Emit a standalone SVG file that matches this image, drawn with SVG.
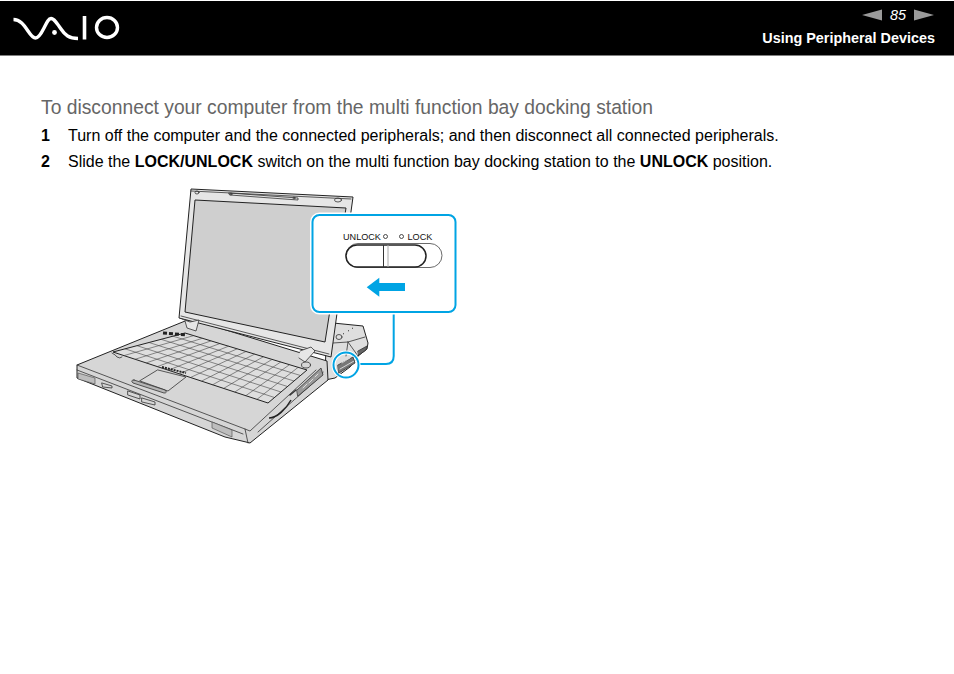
<svg xmlns="http://www.w3.org/2000/svg" width="954" height="674" viewBox="0 0 954 674">
<style>
text{font-family:"Liberation Sans",Arial,sans-serif}
.b{font-size:16px;fill:#000}
.bd{font-weight:bold}
.l{fill:none;stroke:#333;stroke-width:.8;stroke-linejoin:round;stroke-linecap:round}
.t{fill:none;stroke:#444;stroke-width:.6}
.g{fill:#d6d6d6;stroke:#222;stroke-width:1;stroke-linejoin:round}
.c{fill:none;stroke:#00a4e4;stroke-width:2}
.h{fill:#bdbdbd;stroke:#444;stroke-width:.6}
.s{font-size:9.100px;fill:#111}
</style>
<rect width="954" height="674" fill="#fff"/>
<g id="header">
<rect x="0" y="1" width="954" height="54.500" fill="#000"/>
<g id="logo" fill="none" stroke="#fff" stroke-width="3.400">
<path d="M13.500 19.500C20 19.500 24 25 28 31C31 35.500 33 38 35.500 38C38.500 38 41 34 44 28C46.500 23 48.500 18.500 51 18.500C54 18.500 57 23 61 29C65 35 69 38.500 78 38.500"/>
<path d="M84.500 16V39.500" stroke-width="3.600"/>
<ellipse cx="107" cy="27.500" rx="10.500" ry="10" stroke-width="3.400"/>
<circle cx="54.500" cy="32.500" r="2.400" fill="#fff" stroke="none"/>
</g>
<polygon points="862,15 882,9.500 882,20.500" fill="#9a9a9a"/>
<text x="890" y="20" fill="#fff" font-size="14.400" font-style="italic">85</text>
<polygon points="914,9.500 934,15 914,20.500" fill="#9a9a9a"/>
<text x="935" y="43" fill="#fff" font-size="14.400" font-weight="bold" text-anchor="end">Using Peripheral Devices</text>
</g>
<text x="41" y="114" font-size="19.300" fill="#666">To disconnect your computer from the multi function bay docking station</text>
<text x="41" y="141" class="b bd">1</text>
<text x="68" y="141" class="b">Turn off the computer and the connected peripherals; and then disconnect all connected peripherals.</text>
<text x="41" y="167" class="b bd">2</text>
<text x="68" y="167" class="b">Slide the <tspan class="bd">LOCK/UNLOCK</tspan> switch on the multi function bay docking station to the <tspan class="bd">UNLOCK</tspan> position.</text>

<g id="laptop">
<g id="dock">
<path class="g" d="M333 323L363 326L368 343L367 349L358 356L350 367L335 378L325 380L326 345Z" style="fill:#dedede"/>
<path class="l" d="M333 343L348 342L365 337M348 342L346 356M348 342L358 356"/>
<ellipse class="l" cx="339" cy="337" rx="3" ry="2.500"/>
<path class="l" d="M358 351L367 346L366 350L359 355Z" style="fill:#666"/>
<path d="M343 334L344 333.500M348 331L349 330.500M352 328.500L353 328" stroke="#333" fill="none"/>
</g>
<g id="base">
<path class="g" d="M190 319L327 361L328 380L250 443L246 442L225 437L77 378L77 365Z"/>
<path class="l" d="M77 365L245 429L250 431L316 370"/>
<path class="l" d="M77 370L243 434M245 429L248 443"/>
<path class="h" d="M78 373L95 378V384L78 379ZM212 422L232 430V437L212 428Z"/>
<path class="l" d="M102 383L112 386V388L103 387ZM128 391L140 395V399L128 395ZM142 398L155 402V405L142 402Z"/>
<path class="l" d="M258 432L321 376L323 372"/>
<path class="l" d="M297 390L321 368L323 375L298 396Z" style="fill:#999"/>
<path class="l" d="M303 388L307 384M309 383L313 379M315 377L318 374" style="stroke:#eee"/>
<path d="M269 418C277 418 286 409 291 400" stroke="#222" stroke-width="1.500" fill="none"/>
<path class="l" d="M290 395L296 390" style="stroke-width:1.500"/>
</g>
<g id="keyboard">
<path class="g" d="M185 333L307 370L268 403L113 352Z" style="fill:#dedede"/>
<path class="t" d="M173 336.200L300.500 375.500M161 339.300L294 381M149 342.500L287.500 386.500M137 345.700L281 392M125 348.800L274.500 397.500"/>
<path class="t" d="M193.700 335.600L124 355.600M202.400 338.300L135 359.300M211.100 340.900L146.200 362.900M219.800 343.600L157.300 366.600M228.600 346.200L168.400 370.200M237.300 348.800L179.400 373.800M246 351.500L190.500 377.500M254.700 354.100L201.600 381.100M263.400 356.800L212.600 384.800M272.100 359.400L223.700 388.400M280.800 362L234.800 392M289.500 364.700L245.800 395.700M298.200 367.300L257 399.300"/>
<path d="M163 333L187 335" stroke="#222" stroke-width="3" stroke-dasharray="4 2" fill="none"/>
<path class="l" d="M112 353Q116 355 117 357Q120 359 122 357"/>
</g>
<g id="touchpad">
<path class="l" d="M158 370L186 377L168 391L140 381Z" style="fill:#d9d9d9"/>
<path class="l" d="M134 380L165 390Q168 393 164 393L133 383Q130 380 134 380Z" style="fill:#b5b5b5"/>
<path d="M162 367L186 373" stroke="#222" stroke-width="2" stroke-dasharray="2 1" fill="none"/>
</g>
<g id="lid">
<path class="g" d="M191 189L353 197L331 357L179 318Z" style="fill:#e6e6e6"/>
<path class="l" d="M191 191L351 199M181 316L329 354"/>
<path class="g" d="M195 200L346 208L325 342L185 312Z" style="fill:#cfcfcf"/>
<ellipse class="l" cx="197" cy="192.500" rx="2" ry="1.500"/>
<ellipse class="l" cx="338" cy="200" rx="3.500" ry="2"/>
<path class="l" d="M229 193L298 198L298 200L230 195Z"/>
<circle class="l" cx="231" cy="194" r="1"/><circle class="l" cx="294" cy="198" r="1"/>
<path class="l" d="M182 319L190 322L199 320L196 331L187 328L185 321M300 351L311 347L315 351L305 362L299 358" style="fill:#e6e6e6"/>
<ellipse class="l" cx="306" cy="365" rx="4.500" ry="3"/>
</g>
</g>

<g id="callout">
<path d="M393.700 312V356Q393.700 364 386 364H358" class="c"/>
<circle cx="346" cy="365" r="12.500" fill="none" stroke="#fff" stroke-width="4"/>
<g id="port">
<path class="l" d="M338 365L353 357L355 363L339 373Z" style="fill:#777"/>
<path class="l" d="M340 369L354 361M342 363L350 358" style="stroke:#eee"/>
</g>
<circle cx="346" cy="365" r="12.500" class="c"/>
<rect x="312.500" y="215" width="143" height="97" rx="7" fill="#fff" stroke="#fff" stroke-width="5"/>
<rect x="312.500" y="215" width="143" height="97" rx="7" class="c" style="fill:#fff"/>
<text x="343" y="240" class="s">UNLOCK</text>
<circle cx="385.500" cy="236.500" r="2" fill="none" stroke="#222" stroke-width=".8"/>
<circle cx="401.500" cy="236.500" r="2" fill="none" stroke="#222" stroke-width=".8"/>
<text x="407.500" y="240" class="s">LOCK</text>
<rect x="346" y="243.500" width="96" height="24" rx="12" fill="none" stroke="#444" stroke-width=".8"/>
<rect x="346" y="245" width="80" height="22" rx="11" fill="#fff" stroke="#222" stroke-width="1.500"/>
<path d="M383.500 245V267" stroke="#333" stroke-width="1"/>
<path d="M388 245V267" stroke="#aaa" stroke-width="1"/>
<polygon points="366.700,287.300 379.300,277.700 379.300,283 405,283 405,291 379.300,291 379.300,296.700" fill="#00a4e4"/>
</g>
</svg>
